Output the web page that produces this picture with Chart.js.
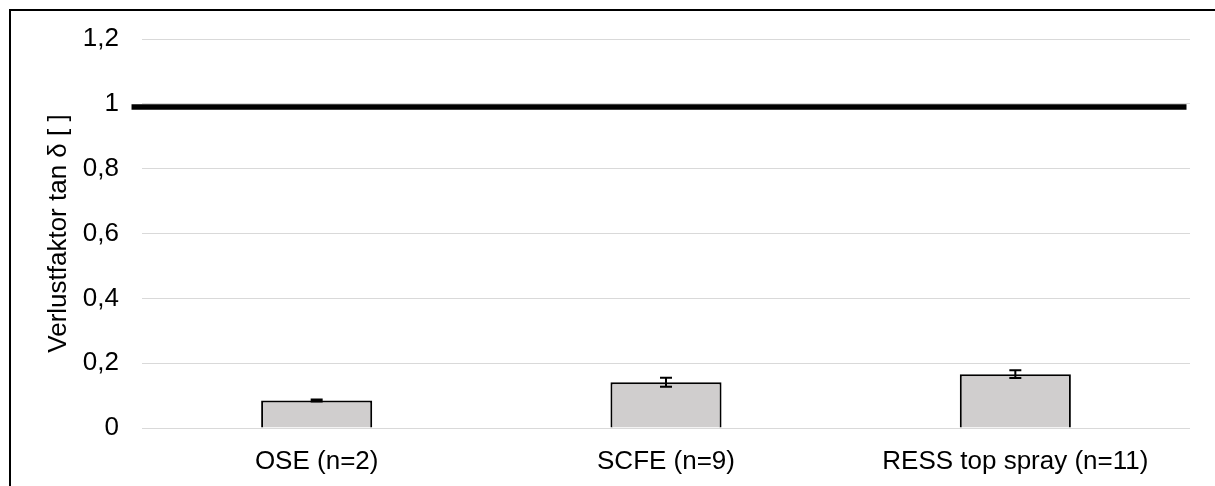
<!DOCTYPE html>
<html>
<head>
<meta charset="utf-8">
<script src="https://cdn.jsdelivr.net/npm/chart.js@4/dist/chart.umd.min.js"></script>
<style>
  html, body { margin: 0; padding: 0; background: #fff; overflow: hidden; }
  #wrap { position: absolute; left: 0; top: 0; width: 1215px; height: 486px; }
  #c { position: absolute; left: 0; top: 0; }
  #frame {
    position: absolute; left: 9px; top: 9px; width: 1400px; height: 700px;
    border-left: 2px solid #000; border-top: 2px solid #000; pointer-events: none;
  }
</style>
</head>
<body>
<div id="wrap">
  <canvas id="c" width="1215" height="486"></canvas>
  <div id="frame"></div>
</div>
<script>
// Loss factor per extraction method (mean and standard deviation)
const categories = ['OSE (n=2)', 'SCFE (n=9)', 'RESS top spray (n=11)'];
const lossFactor = [0.085, 0.141, 0.166];
const lossFactorError = [0.003, 0.014, 0.012];
const referenceLevel = [0.99, 0.99];
const yTickLabels = ['0', '0,2', '0,4', '0,6', '0,8', '1', '1,2'];

Chart.defaults.font.family = '"Liberation Sans", Arial, sans-serif';
Chart.defaults.font.size = 26;
Chart.defaults.color = '#000';

// Error whiskers drawn on top of the bars
const errorBars = {
  id: 'errorBars',
  afterDatasetsDraw(chart) {
    const meta = chart.getDatasetMeta(0);
    const yScale = chart.scales.y;
    const ctx = chart.ctx;
    ctx.save();
    ctx.strokeStyle = '#000';
    ctx.lineWidth = 2;
    meta.data.forEach((bar, i) => {
      const v = lossFactor[i], e = lossFactorError[i];
      const yHi = yScale.getPixelForValue(v + e);
      const yLo = yScale.getPixelForValue(v - e);
      const half = 6;
      ctx.beginPath();
      ctx.moveTo(bar.x, yHi); ctx.lineTo(bar.x, yLo);
      ctx.moveTo(bar.x - half, yHi); ctx.lineTo(bar.x + half, yHi);
      ctx.moveTo(bar.x - half, yLo); ctx.lineTo(bar.x + half, yLo);
      ctx.stroke();
    });
    ctx.restore();
  }
};

new Chart(document.getElementById('c'), {
  type: 'bar',
  data: {
    labels: categories,
    datasets: [
      {
        type: 'bar',
        data: lossFactor,
        backgroundColor: '#d0cece',
        borderColor: '#000',
        borderWidth: 2,
        borderSkipped: 'start',
        categoryPercentage: 1,
        barPercentage: 0.318,
        grouped: false,
        xAxisID: 'x',
        yAxisID: 'y',
        order: 2
      },
      {
        type: 'line',
        data: [{ x: -0.53, y: referenceLevel[0] }, { x: 2.49, y: referenceLevel[1] }],
        borderColor: '#000',
        borderWidth: 5.5,
        pointRadius: 0,
        fill: false,
        clip: false,
        xAxisID: 'xRef',
        yAxisID: 'y',
        order: 1
      }
    ]
  },
  options: {
    responsive: false,
    animation: false,
    events: [],
    layout: { padding: { top: 39, right: 25, left: 0, bottom: 0 } },
    plugins: { legend: { display: false }, tooltip: { enabled: false } },
    scales: {
      x: {
        type: 'category',
        grid: { display: false, drawTicks: false },
        border: { display: false },
        ticks: { padding: 18, maxRotation: 0, autoSkip: false },
        afterFit(scale) { scale.height = 58; }
      },
      xRef: {
        type: 'linear',
        display: false,
        offset: false,
        min: -0.5,
        max: 2.5
      },
      y: {
        min: 0,
        max: 1.2,
        grid: { color: '#d9d9d9', lineWidth: 1, drawTicks: false },
        border: { display: false },
        ticks: {
          stepSize: 0.2,
          padding: 23,
          callback: (v, i) => yTickLabels[i]
        },
        title: {
          display: true,
          text: 'Verlustfaktor tan δ [ ]',
          padding: { top: 43, bottom: 0 }
        },
        afterFit(scale) { scale.width = 142; }
      }
    }
  },
  plugins: [errorBars]
});
</script>
</body>
</html>
